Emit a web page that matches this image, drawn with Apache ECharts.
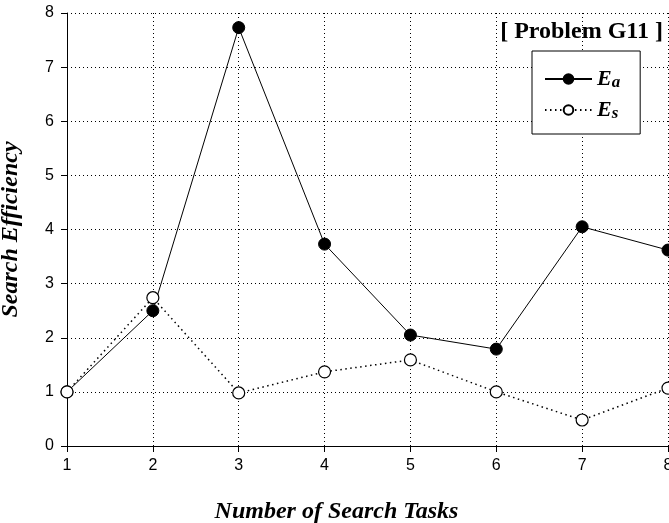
<!DOCTYPE html>
<html><head><meta charset="utf-8">
<script src="https://cdn.jsdelivr.net/npm/echarts@6/dist/echarts.min.js"></script>
<style>html,body{margin:0;padding:0;background:#fff}#c{width:669px;height:523px}</style>
</head><body><div id="c"></div>
<script>
const tasks = [1, 2, 3, 4, 5, 6, 7, 8];
const Ea = [1.0, 2.5, 7.73, 3.73, 2.05, 1.79, 4.05, 3.62];
const Es = [1.0, 2.74, 0.98, 1.37, 1.59, 1.0, 0.48, 1.07];
const titleText = '[ Problem G11 ]';
const xName = 'Number of Search Tasks';
const yName = 'Search Efficiency';

const chart = echarts.init(document.getElementById('c'), null, {renderer: 'canvas'});
const serif = '"Liberation Serif","Times New Roman",serif';
const sans = '"Liberation Sans",Arial,sans-serif';
chart.setOption({
  animation: false,
  backgroundColor: '#fff',
  title: {
    text: titleText, right: 6, top: 20, padding: 0,
    textStyle: {fontFamily: serif, fontWeight: 'bold', fontSize: 24, color: '#000'}
  },
  grid: {left: 67, right: 1, top: 13, bottom: 77, containLabel: false, outerBoundsMode: 'none'},
  legend: {
    orient: 'vertical', left: 532, top: 51,
    padding: [14, 20, 12, 12], itemGap: 5, itemWidth: 47, itemHeight: 12,
    backgroundColor: '#fff', borderColor: '#000', borderWidth: 1,
    data: ['Ea', 'Es'],
    formatter: function (n) { return '{e|E}{s|' + n.slice(1) + '}'; },
    textStyle: {
      color: '#000',
      rich: {
        e: {fontFamily: serif, fontStyle: 'italic', fontWeight: 'bold', fontSize: 22, lineHeight: 24, color: '#000'},
        s: {fontFamily: serif, fontStyle: 'italic', fontWeight: 'bold', fontSize: 17, lineHeight: 24, color: '#000', verticalAlign: 'bottom', padding: [9, 0, 0, 0]}
      }
    }
  },
  xAxis: {
    type: 'value', min: 1, max: 8, interval: 1,
    name: xName, nameLocation: 'middle', nameGap: 54,
    nameTextStyle: {fontFamily: serif, fontStyle: 'italic', fontWeight: 'bold', fontSize: 24, color: '#000', padding: [0, 62, 0, 0]},
    axisLine: {show: true, onZero: false, lineStyle: {color: '#000', width: 1}},
    axisTick: {show: true, length: 6, lineStyle: {color: '#000'}},
    axisLabel: {fontFamily: sans, fontSize: 16, color: '#000', margin: 12},
    splitLine: {show: true, lineStyle: {color: '#000', type: [1, 3], width: 1}}
  },
  yAxis: {
    type: 'value', min: 0, max: 8, interval: 1,
    name: yName, nameLocation: 'middle', nameGap: 44, nameRotate: 90,
    nameTextStyle: {fontFamily: serif, fontStyle: 'italic', fontWeight: 'bold', fontSize: 24, color: '#000'},
    axisLine: {show: true, onZero: false, lineStyle: {color: '#000', width: 1}},
    axisTick: {show: true, length: 6, lineStyle: {color: '#000'}},
    axisLabel: {fontFamily: sans, fontSize: 16, color: '#000', margin: 13},
    splitLine: {show: true, lineStyle: {color: '#000', type: [1, 3], width: 1}}
  },
  series: [
    {
      name: 'Ea', type: 'line', clip: false,
      data: tasks.map((x, i) => [x, Ea[i]]),
      symbol: 'circle', symbolSize: 12,
      lineStyle: {color: '#000', width: 1, type: 'solid'},
      itemStyle: {color: '#000', borderColor: '#000', borderWidth: 1},
      z: 3
    },
    {
      name: 'Es', type: 'line', clip: false,
      data: tasks.map((x, i) => [x, Es[i]]),
      symbol: 'circle', symbolSize: 12,
      lineStyle: {color: '#000', width: 1.5, type: [1.5, 3.5]},
      itemStyle: {color: '#fff', borderColor: '#000', borderWidth: 1.2},
      z: 4
    }
  ]
});
</script></body></html>
